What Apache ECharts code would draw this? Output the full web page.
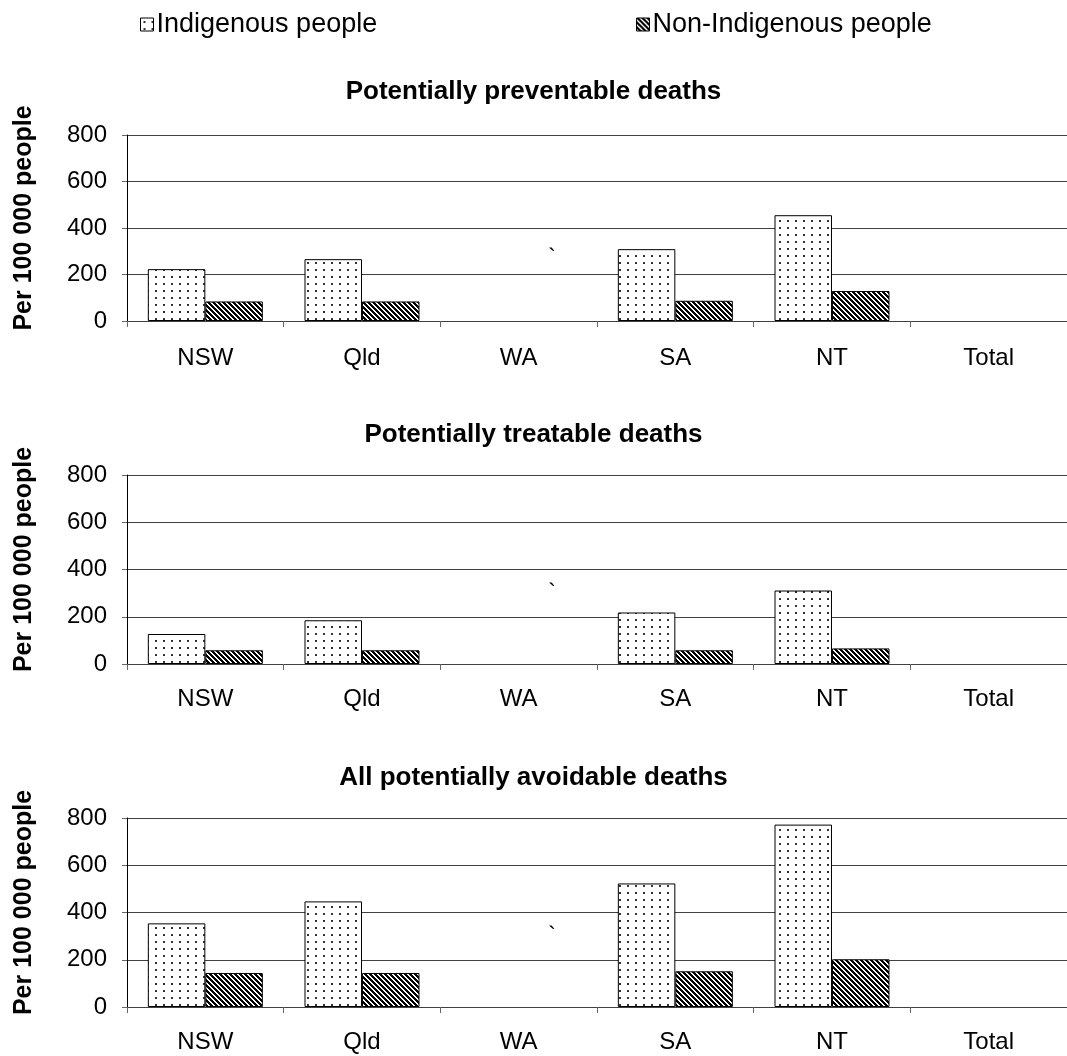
<!DOCTYPE html>
<html>
<head>
<meta charset="utf-8">
<title>Potentially avoidable deaths by jurisdiction</title>
<script src="https://cdn.jsdelivr.net/npm/echarts@6/dist/echarts.min.js"></script>
<style>
  html, body { margin: 0; padding: 0; background: #fff; }
  #chart { width: 1067px; height: 1056px; }
</style>
</head>
<body>
<div id="chart"></div>
<script>
// Jurisdictions on the category axis
const categories = ['NSW', 'Qld', 'WA', 'SA', 'NT', 'Total'];

// Deaths per 100 000 people (no published figures for WA or Total)
const preventableIndigenous = [223, 266, null, 309, 455, null];
const preventableNonIndigenous = [84, 84, null, 87, 129, null];
const treatableIndigenous = [127, 185, null, 218, 311, null];
const treatableNonIndigenous = [58, 58, null, 58, 66, null];
const allIndigenous = [354, 447, null, 523, 772, null];
const allNonIndigenous = [144, 144, null, 151, 202, null];

// Value axis ticks
const yTicks = [0, 200, 400, 600, 800];

const panelTitles = [
  'Potentially preventable deaths',
  'Potentially treatable deaths',
  'All potentially avoidable deaths'
];
const seriesNames = ['Indigenous people', 'Non-Indigenous people'];
const yAxisName = 'Per 100 000 people';

const FONT = '"Liberation Sans", Arial, Helvetica, sans-serif';

// Fill patterns: sparse dots and dark backslash stripes
function dotPattern() {
  const c = document.createElement('canvas');
  c.width = 8; c.height = 7;
  const g = c.getContext('2d');
  g.fillStyle = '#ffffff';
  g.fillRect(0, 0, 8, 7);
  g.fillStyle = '#333333';
  g.fillRect(3, 3, 2, 2);
  return c;
}
function stripePattern() {
  const n = 5;
  const c = document.createElement('canvas');
  c.width = n; c.height = n;
  const g = c.getContext('2d');
  const img = g.createImageData(n, n);
  for (let y = 0; y < n; y++) {
    for (let x = 0; x < n; x++) {
      const k = ((x - y) % n + n) % n;
      const v = k < 3 ? 0 : 255;
      const i = (y * n + x) * 4;
      img.data[i] = v; img.data[i + 1] = v; img.data[i + 2] = v; img.data[i + 3] = 255;
    }
  }
  g.putImageData(img, 0, 0);
  return c;
}
const dotFill = { image: dotPattern(), repeat: 'repeat' };
const stripeFill = { image: stripePattern(), repeat: 'repeat' };

// Panel placement
const panels = [
  { top: 135, height: 186, titleTop: 79, labelMargin: 25, markTop: 246 },
  { top: 475, height: 189, titleTop: 422, labelMargin: 23, markTop: 581 },
  { top: 818, height: 189, titleTop: 765, labelMargin: 23, markTop: 924 }
];
const panelData = [
  [preventableIndigenous, preventableNonIndigenous],
  [treatableIndigenous, treatableNonIndigenous],
  [allIndigenous, allNonIndigenous]
];

const grids = [], xAxes = [], yAxes = [], series = [], titles = [], graphics = [];

panels.forEach((p, i) => {
  grids.push({ left: 127, right: -8, top: p.top, height: p.height, containLabel: false });
  titles.push({
    text: panelTitles[i],
    left: 'center',
    top: p.titleTop,
    padding: 0,
    textStyle: { fontFamily: FONT, fontSize: 26, fontWeight: 'bold', color: '#000' }
  });
  xAxes.push({
    type: 'category',
    gridIndex: i,
    data: categories,
    axisLine: { lineStyle: { color: '#404040', width: 1 } },
    axisTick: { show: true, length: 6, lineStyle: { color: '#666' } },
    axisLabel: { fontFamily: FONT, fontSize: 24, color: '#000', margin: p.labelMargin },
    splitLine: { show: false }
  });
  yAxes.push({
    type: 'value',
    gridIndex: i,
    min: yTicks[0],
    max: yTicks[yTicks.length - 1],
    interval: yTicks[1] - yTicks[0],
    name: yAxisName,
    nameLocation: 'middle',
    nameGap: 90,
    nameRotate: 90,
    nameTextStyle: {
      fontFamily: FONT, fontSize: 25, fontWeight: 'bold', color: '#000',
      padding: [0, 0, 0, 20]
    },
    axisLine: { show: true, lineStyle: { color: '#000', width: 1 } },
    axisTick: { show: true, length: 5, lineStyle: { color: '#666' } },
    axisLabel: { fontFamily: FONT, fontSize: 24, color: '#000', margin: 20 },
    splitLine: { show: true, lineStyle: { color: '#404040', width: 1 } }
  });
  const fills = [dotFill, stripeFill];
  panelData[i].forEach((values, s) => {
    series.push({
      name: seriesNames[s],
      type: 'bar',
      xAxisIndex: i,
      yAxisIndex: i,
      data: values,
      barGap: '0%',
      barCategoryGap: '26.6%',
      itemStyle: { color: fills[s], borderColor: '#000', borderWidth: 1 },
      emphasis: { disabled: true }
    });
  });
  // stray grave-accent mark beside the WA column
  graphics.push({
    type: 'text',
    left: 548,
    top: p.markTop,
    style: { text: '`', font: '24px ' + FONT, fill: '#000' }
  });
});

const legendCommon = {
  orient: 'horizontal',
  top: 11,
  padding: 0,
  itemWidth: 13,
  itemHeight: 13,
  icon: 'rect',
  selectedMode: false,
  itemStyle: { borderColor: '#000', borderWidth: 1 },
  textStyle: { fontFamily: FONT, fontSize: 27, color: '#000', padding: [0, 0, 0, -2] }
};

const option = {
  animation: false,
  backgroundColor: '#ffffff',
  title: titles,
  legend: [
    Object.assign({}, legendCommon, { left: 140, data: [seriesNames[0]] }),
    Object.assign({}, legendCommon, { left: 636, data: [seriesNames[1]] })
  ],
  grid: grids,
  xAxis: xAxes,
  yAxis: yAxes,
  series: series,
  graphic: graphics
};

const chart = echarts.init(document.getElementById('chart'), null, { renderer: 'canvas' });
chart.setOption(option);
</script>
</body>
</html>
